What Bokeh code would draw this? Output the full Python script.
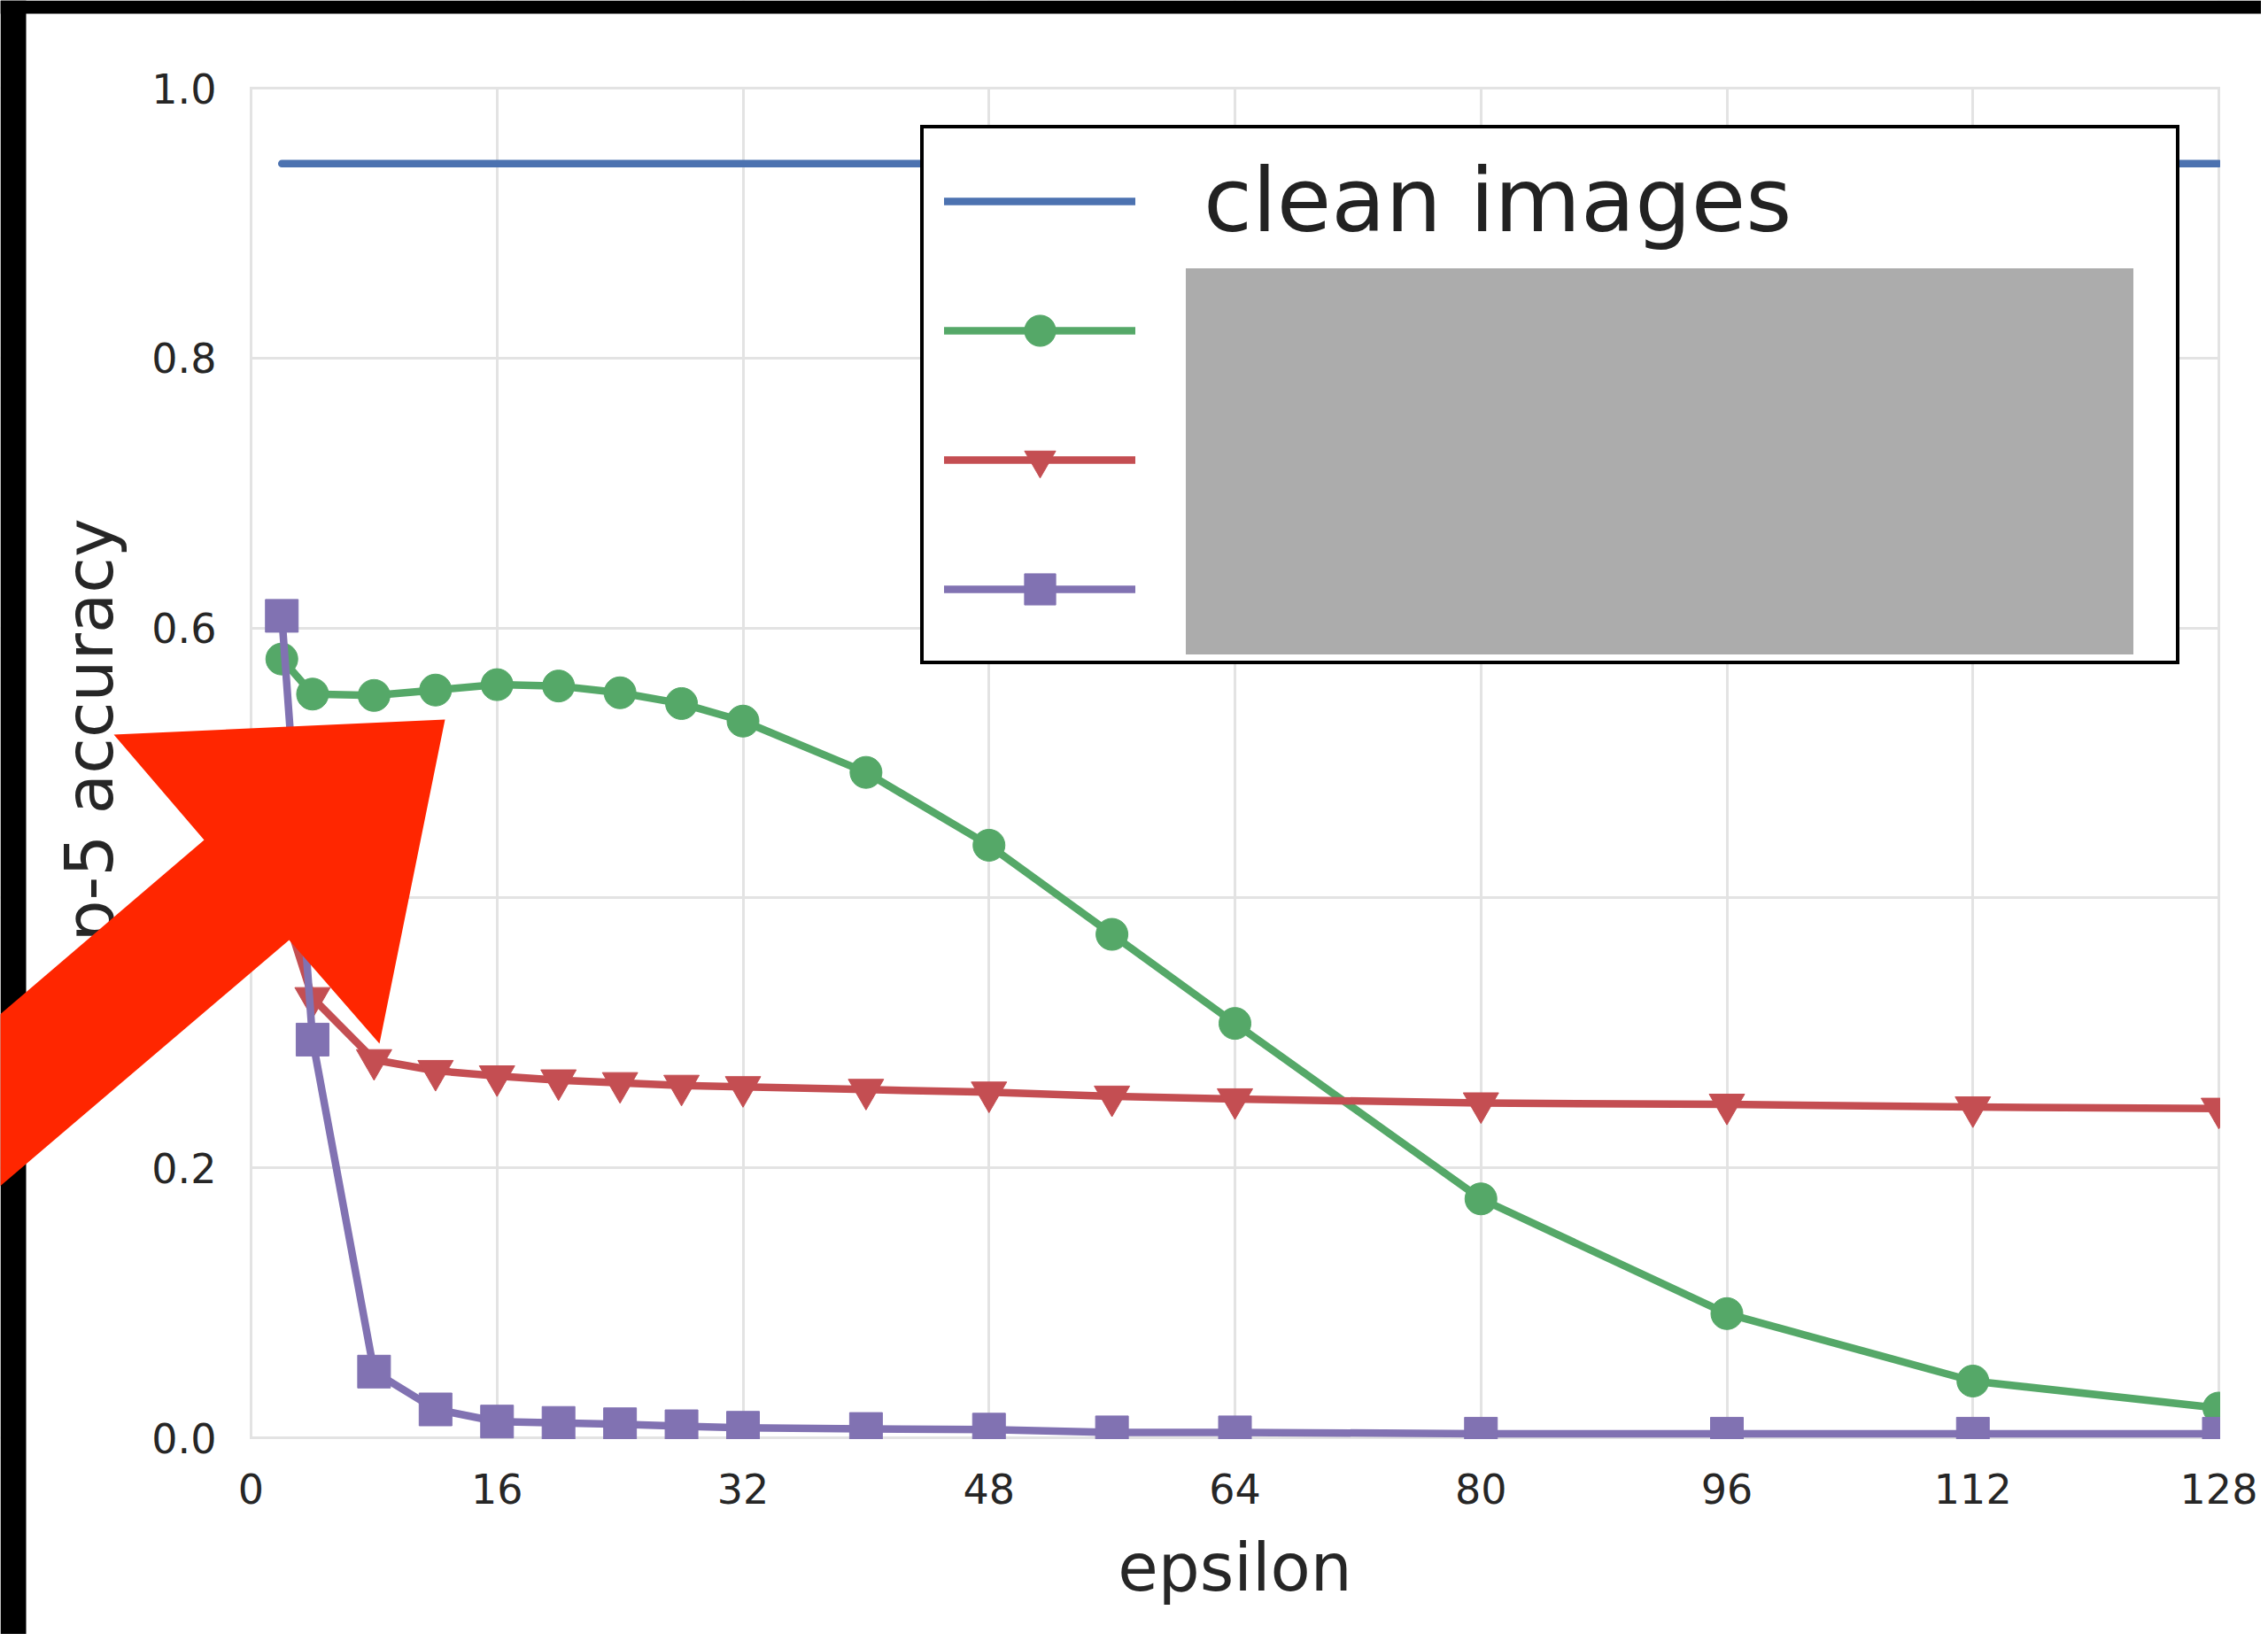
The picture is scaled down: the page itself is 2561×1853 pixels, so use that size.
from bokeh.plotting import figure
from bokeh.models import Legend, LegendItem, PolyAnnotation, FixedTicker, Range1d
from bokeh.embed import file_html
from bokeh.resources import INLINE

# ---------------- data ----------------
epsilon = [2, 4, 8, 12, 16, 20, 24, 28, 32, 40, 48, 56, 64, 80, 96, 112, 128]
clean_images = [0.944, 0.944, 0.944, 0.944, 0.944, 0.944, 0.944, 0.944, 0.944,
                0.944, 0.944, 0.944, 0.944, 0.944, 0.944, 0.944, 0.944]
series_green = [0.577, 0.551, 0.550, 0.554, 0.558, 0.557, 0.552, 0.544, 0.531,
                0.493, 0.439, 0.373, 0.307, 0.177, 0.092, 0.042, 0.022]
series_red = [0.397, 0.326, 0.280, 0.272, 0.268, 0.265, 0.263, 0.261, 0.260,
              0.258, 0.256, 0.253, 0.251, 0.248, 0.247, 0.245, 0.244]
series_purple = [0.609, 0.295, 0.049, 0.021, 0.012, 0.011, 0.010, 0.0085, 0.0074,
                 0.0065, 0.006, 0.004, 0.004, 0.003, 0.003, 0.003, 0.003]

legend_labels = ["clean images", "", "", ""]
x_ticks = [0, 16, 32, 48, 64, 80, 96, 112, 128]
x_tick_labels = ["0", "16", "32", "48", "64", "80", "96", "112", "128"]
y_ticks = [0.0, 0.2, 0.4, 0.6, 0.8, 1.0]
y_tick_labels = ["0.0", "0.2", "0.4", "0.6", "0.8", "1.0"]
X_MIN, X_MAX, Y_MIN, Y_MAX = 0, 128, 0.0, 1.0

# ---------------- layout (pixels) ----------------
W, H = 2553, 1845
FL, FR, FT, FB = 283, 2505, 99, 1623      # plot-area edges on the page
FONT = "DejaVu Sans"
TXT = "#262626"
GRID = "#e3e3e3"
GW = 3

sx = (FR - FL) / (X_MAX - X_MIN)
sy = (FB - FT) / (Y_MAX - Y_MIN)
x_range = Range1d(X_MIN - FL / sx, X_MAX + (W - FR) / sx)
y_range = Range1d(Y_MIN - (H - FB) / sy, Y_MAX + FT / sy)

p = figure(width=W, height=H, x_range=x_range, y_range=y_range,
           output_backend="svg", toolbar_location=None,
           min_border_left=0, min_border_right=0, min_border_top=0,
           min_border_bottom=0,
           background_fill_color="white", border_fill_color="white",
           x_axis_label="epsilon", y_axis_label="top-5 accuracy")
p.outline_line_color = None

p.xaxis.ticker = FixedTicker(ticks=x_ticks)
p.yaxis.ticker = FixedTicker(ticks=y_ticks)
p.xaxis.major_label_overrides = {t: l for t, l in zip(x_ticks, x_tick_labels)}
p.yaxis.major_label_overrides = {t: l for t, l in zip(y_ticks, y_tick_labels)}
p.xaxis.fixed_location = Y_MIN
p.yaxis.fixed_location = X_MIN
p.xaxis.bounds = (X_MIN, X_MAX)
p.yaxis.bounds = (Y_MIN, Y_MAX)

p.xgrid.ticker = FixedTicker(ticks=x_ticks)
p.ygrid.ticker = FixedTicker(ticks=y_ticks)
for g in (p.xgrid[0], p.ygrid[0]):
    g.grid_line_color = GRID
    g.grid_line_width = GW

for ax in (p.xaxis[0], p.yaxis[0]):
    ax.axis_line_color = None
    ax.major_tick_line_color = None
    ax.minor_tick_line_color = None
    ax.major_tick_out = 0
    ax.major_tick_in = 0
    ax.minor_tick_out = 0
    ax.minor_tick_in = 0
    ax.major_label_text_font = FONT
    ax.major_label_text_font_size = "46px"
    ax.major_label_text_color = TXT
    ax.axis_label_text_font = FONT
    ax.axis_label_text_font_size = "74px"
    ax.axis_label_text_font_style = "normal"
    ax.axis_label_text_color = TXT
p.xaxis.major_label_standoff = 40
p.yaxis.major_label_standoff = 39
p.xaxis.axis_label_standoff = 26
p.yaxis.axis_label_standoff = 24

BLUE, GREEN, RED, PURPLE = "#4C72B0", "#55A868", "#C44E52", "#8172B2"
LW = 8.5

r_clean = p.line(epsilon, clean_images, line_color=BLUE, line_width=LW,
                 line_cap="round", line_join="round")
g_line = p.line(epsilon, series_green, line_color=GREEN, line_width=LW,
                line_cap="round", line_join="round")
g_pts = p.scatter(epsilon, series_green, marker="circle", size=36,
                  fill_color=GREEN, line_color=GREEN)
r_line = p.line(epsilon, series_red, line_color=RED, line_width=LW,
                line_cap="round", line_join="round")
r_pts = p.scatter(epsilon, series_red, marker="inverted_triangle", size=40,
                  fill_color=RED, line_color=RED)
p_line = p.line(epsilon, series_purple, line_color=PURPLE, line_width=LW,
                line_cap="round", line_join="round")
p_pts = p.scatter(epsilon, series_purple, marker="square", size=37,
                  fill_color=PURPLE, line_color=PURPLE)


def rect_poly(l, t, r, b, color, level):
    return PolyAnnotation(xs=[l, r, r, l], ys=[t, t, b, b],
                          xs_units="canvas", ys_units="canvas",
                          fill_color=color, fill_alpha=1, line_color=None,
                          level=level)


# white masks outside the plot area: they clip the marks at the axes edges
# and trim the grid lines, like the original axes box
h = GW / 2
for l, t, r, b in [(0, 0, FL - h, H), (0, 0, W, FT - h),
                   (FR + h, 0, W, H), (0, FB + h, W, H)]:
    p.renderers.append(rect_poly(l, t, r, b, "white", "glyph"))

LEG_PAD, ROW_H, ROW_GAP = 23, 117, 29
LEG_TOP = 149
leg_h = 2 * LEG_PAD + 4 * ROW_H + 3 * ROW_GAP
legend = Legend(
    items=[LegendItem(label=legend_labels[0], renderers=[r_clean]),
           LegendItem(label=legend_labels[1], renderers=[g_line, g_pts]),
           LegendItem(label=legend_labels[2], renderers=[r_line, r_pts]),
           LegendItem(label=legend_labels[3], renderers=[p_line, p_pts])],
    location=(1039, H - (LEG_TOP + leg_h)), orientation="vertical",
    label_text_font=FONT, label_text_font_size="100px", label_text_color="#222222",
    glyph_width=216, glyph_height=88, label_standoff=77, label_width=1075,
    label_height=ROW_H, spacing=ROW_GAP, padding=LEG_PAD, margin=0,
    border_line_color="black", border_line_width=4, border_line_alpha=1,
    background_fill_color="white", background_fill_alpha=1)
p.add_layout(legend)

# gray box hiding the legend labels (drawn as a second, label-less legend box
# so that it sits above the first legend)
BOX_L, BOX_T, BOX_R, BOX_B = 1339, 303, 2409, 739
blank = p.line(x=[], y=[], line_alpha=0)
cover = Legend(
    items=[LegendItem(label="", renderers=[blank])],
    location=(BOX_L, H - BOX_B), orientation="vertical",
    label_text_font_size="1px", glyph_width=10, glyph_height=BOX_B - BOX_T,
    label_standoff=0, label_width=BOX_R - BOX_L - 10, label_height=BOX_B - BOX_T,
    spacing=0, padding=0, margin=0, border_line_color=None,
    background_fill_color="#acacac", background_fill_alpha=1)
p.add_layout(cover)

# black screenshot borders
p.add_layout(rect_poly(0, 0, 29, H, "black", "overlay"))
p.add_layout(rect_poly(0, 0, W, 15, "black", "overlay"))

# red arrow
p.add_layout(PolyAnnotation(xs=[502, 128, 230, -10, -10, 326, 428],
                            ys=[812, 829, 948, 1153, 1347, 1061, 1178],
                            xs_units="canvas", ys_units="canvas",
                            fill_color="#ff2600", fill_alpha=1, line_color=None,
                            level="overlay"))

open("out.html", "w").write(file_html(p, INLINE))
